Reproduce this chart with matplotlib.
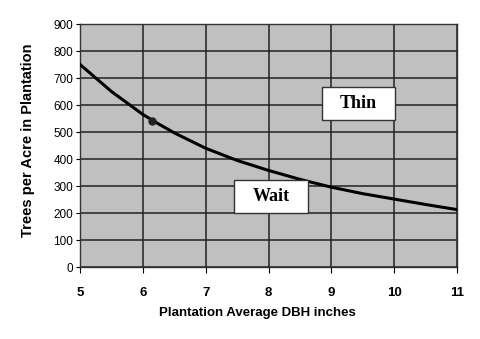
import matplotlib
matplotlib.use("Agg")
import matplotlib.pyplot as plt
from matplotlib.patches import Rectangle

# curve
dbh = [5, 5.5, 6, 6.25, 6.5, 7, 7.5, 8, 8.5, 9, 9.5, 10, 10.5, 11]
trees = [750, 650, 565, 530, 497, 440, 395, 358, 325, 296, 272, 252, 232, 213]
marker_x = [6.15]
marker_y = [542]
x_ticks = [5, 6, 7, 8, 9, 10, 11]
y_ticks = list(range(0, 1000, 100))

# label boxes: (text, x0, x1, y0, y1)
labels = [('Thin', 8.85, 10.02, 544, 667),
          ('Wait', 7.45, 8.63, 200, 322)]

plt.rcParams['font.family'] = ['Liberation Sans', 'DejaVu Sans']

fig = plt.figure(figsize=(4.8, 3.39), dpi=100)
ax = fig.add_axes([0.167, 0.212, 0.785, 0.717])
ax.set_facecolor('#c0c0c0')

ax.plot(dbh, trees, color='black', lw=2.2, zorder=3)
ax.plot(marker_x, marker_y, 'o', color='#222222', ms=5, zorder=4)

ax.set_xlim(5, 11)
ax.set_ylim(0, 900)
ax.set_xticks(x_ticks)
ax.set_yticks(y_ticks)
ax.grid(True, color='#222222', lw=1.1, zorder=1)
ax.set_axisbelow(True)
for s in ax.spines.values():
    s.set_color('#333333')
    s.set_linewidth(1.0)

ax.tick_params(axis='x', length=4, pad=10, labelsize=9.5)
ax.tick_params(axis='y', length=3, pad=2, labelsize=8.5)
for lbl in ax.get_xticklabels():
    lbl.set_fontweight('bold')

ax.set_xlabel('Plantation Average DBH inches', fontsize=9.5, fontweight='bold')
ax.xaxis.set_label_coords(0.47, -0.165)
ax.set_ylabel('Trees per Acre in Plantation', fontsize=10.5, fontweight='bold')
ax.yaxis.set_label_coords(-0.12, 0.52)

for txt, x0, x1, y0, y1 in labels:
    ax.add_patch(Rectangle((x0, y0), x1 - x0, y1 - y0, facecolor='white',
                           edgecolor='#333333', lw=1, zorder=5))
    ax.text((x0 + x1) / 2, (y0 + y1) / 2, txt, ha='center', va='center', fontsize=13,
            fontweight='bold', family='Liberation Serif', zorder=6)

fig.savefig('out.png', dpi=100)
